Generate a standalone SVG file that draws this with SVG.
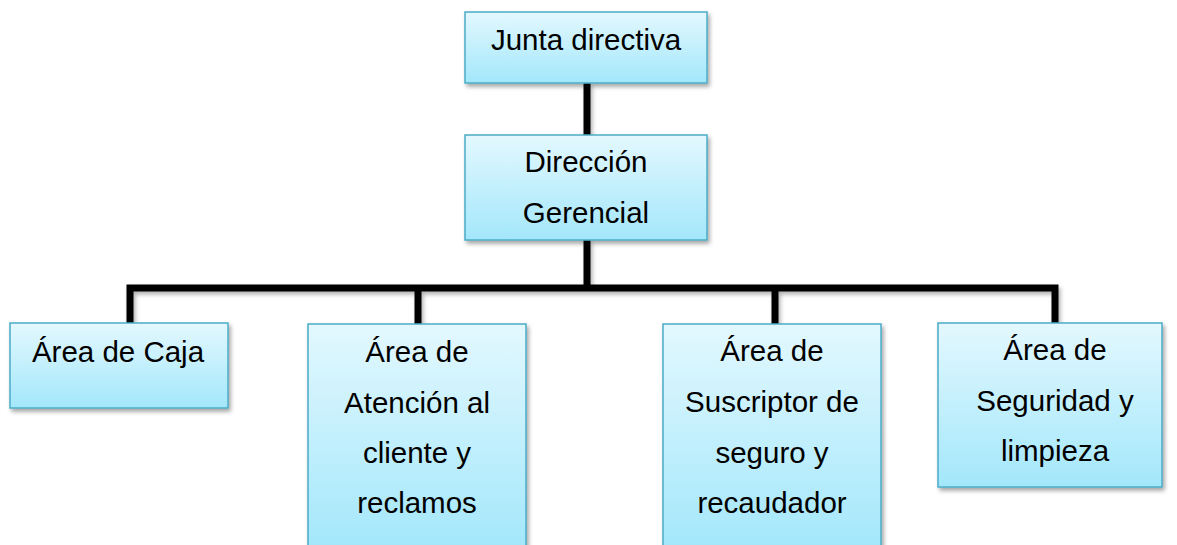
<svg xmlns="http://www.w3.org/2000/svg" width="1177" height="545" viewBox="0 0 1177 545">
<defs>
<linearGradient id="g" x1="0" y1="0" x2="0" y2="1">
<stop offset="0" stop-color="#E3F8FE"/>
<stop offset="1" stop-color="#A3E7FB"/>
</linearGradient>
<filter id="sh" x="-10%" y="-10%" width="130%" height="130%">
<feDropShadow dx="2" dy="3" stdDeviation="2" flood-color="#000" flood-opacity="0.35"/>
</filter>
<filter id="shc" filterUnits="userSpaceOnUse" x="0" y="0" width="1177" height="545">
<feDropShadow dx="2" dy="3" stdDeviation="2" flood-color="#000" flood-opacity="0.3"/>
</filter>
</defs>
<style>
.box{fill:url(#g);stroke:#4BACC6;stroke-width:1.5;filter:url(#sh)}
.t{font-family:"Liberation Sans",Arial,sans-serif;font-size:29.5px;fill:#000;text-anchor:middle}
.c{stroke:#000;stroke-width:7;fill:none}
</style>
<g id="connectors" filter="url(#shc)">
<path class="c" d="M587,83 V135"/>
<path class="c" d="M587,240 V288"/>
<path class="c" d="M130,323 V288 H1055 V323"/>
<path class="c" d="M418,288 V324"/>
<path class="c" d="M775,288 V324"/>
</g>
<g id="junta">
<rect class="box" x="465" y="12" width="242" height="71"/>
<text class="t" x="586" y="50">Junta directiva</text>
</g>
<g id="direccion">
<rect class="box" x="465" y="135" width="242" height="105"/>
<text class="t" x="586" y="172">Dirección</text>
<text class="t" x="586" y="223">Gerencial</text>
</g>
<g id="caja">
<rect class="box" x="10" y="323" width="218" height="85"/>
<text class="t" x="118" y="362">Área de Caja</text>
</g>
<g id="atencion">
<rect class="box" x="308" y="324" width="218" height="225"/>
<text class="t" x="417" y="362">Área de</text>
<text class="t" x="417" y="413">Atención al</text>
<text class="t" x="417" y="463">cliente y</text>
<text class="t" x="417" y="513">reclamos</text>
</g>
<g id="suscriptor">
<rect class="box" x="663" y="324" width="218" height="225"/>
<text class="t" x="772" y="361">Área de</text>
<text class="t" x="772" y="412">Suscriptor de</text>
<text class="t" x="772" y="463">seguro y</text>
<text class="t" x="772" y="513">recaudador</text>
</g>
<g id="seguridad">
<rect class="box" x="938" y="323" width="224" height="164"/>
<text class="t" x="1055" y="360">Área de</text>
<text class="t" x="1055" y="411">Seguridad y</text>
<text class="t" x="1055" y="461">limpieza</text>
</g>
</svg>
